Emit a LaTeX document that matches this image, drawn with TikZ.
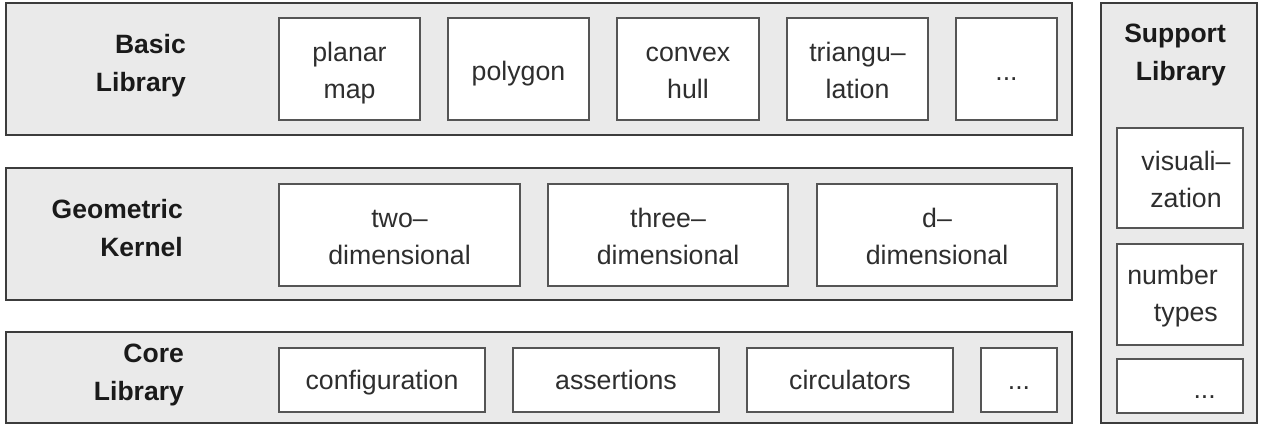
\documentclass[tikz,border=0pt]{standalone}
\usepackage{fontspec}
\setmainfont{Liberation Sans}
\definecolor{panelfill}{HTML}{EAEAEA}
\definecolor{panelline}{HTML}{3C3C3C}
\definecolor{boxline}{HTML}{555555}
\definecolor{txtcol}{HTML}{2E2E2E}
\definecolor{lblcol}{HTML}{1A1A1A}
\newcommand{\sv}{\rule[-6pt]{0pt}{35pt}}
\begin{document}
\begin{tikzpicture}[x=1pt,y=-1pt,
  panel/.style={draw=panelline, fill=panelfill, line width=1.8pt, inner sep=0pt},
  ibox/.style={draw=boxline, fill=white, line width=1.6pt, inner sep=0pt},
  itxt/.style={align=center, inner sep=0pt, text=txtcol, font=\fontsize{26.7}{37}\selectfont},
  lbl/.style={align=right, inner sep=0pt, anchor=east, text=lblcol, font=\bfseries\fontsize{26.5}{38}\selectfont}]
\useasboundingbox (0,0) rectangle (1264,427);
% panels
\node[panel, minimum width=1066, minimum height=132] (basic) at (539,69) {};
\node[panel, minimum width=1066, minimum height=132] (geo) at (539,234) {};
\node[panel, minimum width=1066, minimum height=91] (core) at (539,377.5) {};
\node[panel, minimum width=156, minimum height=420] (supp) at (1179,213) {};
% panel labels
\node[lbl] (basicl) at (186,65.8) {Basic\\Library};
\node[lbl] (geol) at (183,228.5) {Geometric\\Kernel};
\node[lbl] (corel) at (184,374.5) {Core\\Library};
\node[lbl] (suppl) at (1226,55.5) {Support\\Library};
% basic library boxes
\node[ibox, minimum width=141, minimum height=102] (planar) at (349.5,69) {};
\node[ibox, minimum width=141, minimum height=102] (polygon) at (518.5,69) {};
\node[ibox, minimum width=142, minimum height=102] (convex) at (688,69) {};
\node[ibox, minimum width=141, minimum height=102] (triang) at (857.5,69) {};
\node[ibox, minimum width=101, minimum height=102] (bdots) at (1006.5,69) {};
\node[itxt] (planart) at (planar.center) {\sv planar\\\sv map};
\node[itxt] (polygont) at (polygon.center) {\sv polygon};
\node[itxt] (convext) at (convex.center) {\sv convex\\\sv hull};
\node[itxt] (triangt) at (triang.center) {\sv triangu–\\\sv lation};
\node[itxt] (bdotst) at (bdots.center) {\sv ...};
% geometric kernel boxes
\node[ibox, minimum width=241, minimum height=102] (twod) at (399.5,235) {};
\node[ibox, minimum width=240, minimum height=102] (threed) at (668,235) {};
\node[ibox, minimum width=240, minimum height=102] (dd) at (937,235) {};
\node[itxt] (twodt) at (twod.center) {\sv two–\\\sv dimensional};
\node[itxt] (threedt) at (threed.center) {\sv three–\\\sv dimensional};
\node[itxt] (ddt) at (dd.center) {\sv d–\\\sv dimensional};
% core library boxes
\node[ibox, minimum width=206, minimum height=64] (config) at (382,380) {};
\node[ibox, minimum width=206, minimum height=64] (assert) at (616,380) {};
\node[ibox, minimum width=206, minimum height=64] (circ) at (850,380) {};
\node[ibox, minimum width=76, minimum height=64] (cdots) at (1019,380) {};
\node[itxt] (configt) at ([yshift=1.5pt]config.center) {\sv configuration};
\node[itxt] (assertt) at ([yshift=1.5pt]assert.center) {\sv assertions};
\node[itxt] (circt) at ([yshift=1.5pt]circ.center) {\sv circulators};
\node[itxt] (cdotst) at ([yshift=1.5pt]cdots.center) {\sv ...};
% support library boxes
\node[ibox, minimum width=126, minimum height=100] (visu) at (1180,178) {};
\node[ibox, minimum width=126, minimum height=101] (numt) at (1180,294.5) {};
\node[ibox, minimum width=126, minimum height=54] (sdots) at (1180,386) {};
\node[itxt] (visut) at (1186,178) {\sv visuali–\\\sv zation};
\node[itxt, align=right, anchor=east] (numtt) at (1218,292) {\sv number\\\sv types};
\node[itxt, anchor=base east] (sdotst) at (1216,399) {...};
\end{tikzpicture}
\end{document}
